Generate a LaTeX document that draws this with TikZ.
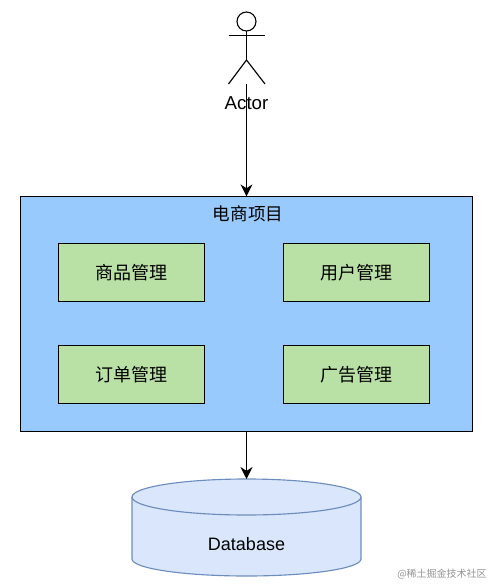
\documentclass[tikz,border=0pt]{standalone}
\usepackage{fontspec}
\setmainfont{Liberation Sans}
\newfontfamily\cjk{Noto Sans CJK SC}
\usetikzlibrary{arrows.meta}
\definecolor{bluebox}{HTML}{99CAFE}
\definecolor{greenbox}{HTML}{B9E0A5}
\definecolor{dbfill}{HTML}{D9E6FB}
\definecolor{dbline}{HTML}{6E8DBF}
\tikzset{
  lbl/.style={font=\fontsize{13.5pt}{16pt}\selectfont,text=black,inner sep=0pt},
  module/.style={draw=black,line width=0.85pt,fill=greenbox,minimum width=109.5pt,minimum height=43.5pt,inner sep=0pt,outer sep=0pt,font=\cjk\fontsize{13.5pt}{16pt}\selectfont},
  conn/.style={draw=black,line width=0.85pt,-{Stealth[length=9pt,width=9pt]}},
  figure/.style={draw=black,line width=0.85pt}
}
\begin{document}
\begin{tikzpicture}[x=0.75pt,y=-0.75pt]
\useasboundingbox (0,0) rectangle (490,584);
\node[draw=black,line width=0.85pt,fill=bluebox,minimum width=339pt,minimum height=176.25pt,inner sep=0pt,outer sep=0pt,anchor=north west] (project) at (20.4,196.4) {};
\node[lbl,font=\cjk\fontsize{13.2pt}{15pt}\selectfont] (ptitle) at (248,213.5) {电商项目};
\node[module] (m1) at (131.5,272.5) {商品管理};
\node[module] (m2) at (356.8,272.5) {用户管理};
\node[module] (m3) at (131.5,374.5) {订单管理};
\node[module] (m4) at (356.8,374.5) {广告管理};
% actor
\draw[figure] (246.5,21.5) circle[radius=9.5];
\draw[figure] (246.5,31) -- (246.5,60);
\draw[figure] (228.5,35.5) -- (265,35.5);
\draw[figure] (228.5,84) -- (246.5,60) -- (265,84);
\coordinate (foot) at (246.5,84);
\node[lbl,font=\fontsize{14pt}{16pt}\selectfont] (actor) at (246.5,103) {Actor};
\draw[conn] (foot) -- (project.north -| foot);
% database
\draw[draw=dbline,line width=0.85pt,fill=dbfill]
  (132,497) arc[start angle=180,end angle=360,x radius=114.5,y radius=18]
  -- (361,559) arc[start angle=0,end angle=180,x radius=114.5,y radius=17] -- cycle;
\draw[draw=dbline,line width=0.85pt] (132,497) arc[start angle=180,end angle=0,x radius=114.5,y radius=18];
\node[minimum width=171pt,minimum height=73pt,inner sep=0pt,outer sep=0pt,anchor=north] (dbbox) at (246.5,479) {};
\node[lbl] (db) at (246.5,544) {Database};
\draw[conn] (project.south -| dbbox.north) -- (dbbox.north);
\node[font=\cjk\fontsize{7.5pt}{9pt}\selectfont,text=black!42,inner sep=0pt,anchor=east] (mark) at (487,574.5) {@稀土掘金技术社区};
\end{tikzpicture}
\end{document}
